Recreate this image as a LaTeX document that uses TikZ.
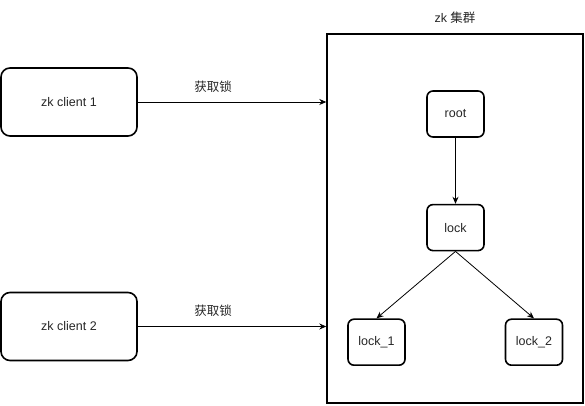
\documentclass[tikz,border=0pt]{standalone}
\usepackage{fontspec}
\setmainfont{Liberation Sans}
\newfontfamily\cjk{Noto Sans CJK SC}
\usetikzlibrary{arrows.meta, positioning, calc}

\begin{document}
\begin{tikzpicture}[
  x=1pt, y=1pt, >={Stealth[length=7pt, width=6pt]},
  font=\fontsize{12.5}{14}\selectfont, text=black!85,
  client/.style = {draw, line width=1.6pt, rounded corners=9pt, minimum width=136pt, minimum height=68pt},
  znode/.style  = {draw, line width=1.6pt, rounded corners=6pt, minimum width=57pt, minimum height=46pt},
  frame/.style  = {draw, line width=1.4pt, minimum width=256pt, minimum height=369pt},
  link/.style   = {->, line width=0.8pt},
]
\useasboundingbox (0,0) rectangle (585,406);

%--- clients ---
  \node[client] (cli1) at (69,304)  {zk client 1};
  \node[client] (cli2) at (69,79.5) {zk client 2};

%--- zk cluster ---
  \node[frame] (zk) at (455,187.5) {};
  \node[above=6pt of zk.north] (zkname) {zk {\cjk 集群}};

  \node[znode] (root)  at (455.5,292)             {root};
  \node[znode, below=66pt of root] (lock)         {lock};
  \node[znode, anchor=north] (lock1) at ($(lock.south)+(-79,-67)$) {lock\_1};
  \node[znode, anchor=north] (lock2) at ($(lock.south)+(78.5,-67)$) {lock\_2};

%--- connectors ---
  \draw[link] (cli1.east) -- node[pos=0.4, above=6pt] {\cjk 获取锁} (cli1.east -| zk.west);
  \draw[link] (cli2.east) -- node[pos=0.4, above=6pt] {\cjk 获取锁} (cli2.east -| zk.west);
  \draw[link] (root) -- (lock);
  \draw[link] (lock.south) -- (lock1.north);
  \draw[link] (lock.south) -- (lock2.north);
\end{tikzpicture}
\end{document}
